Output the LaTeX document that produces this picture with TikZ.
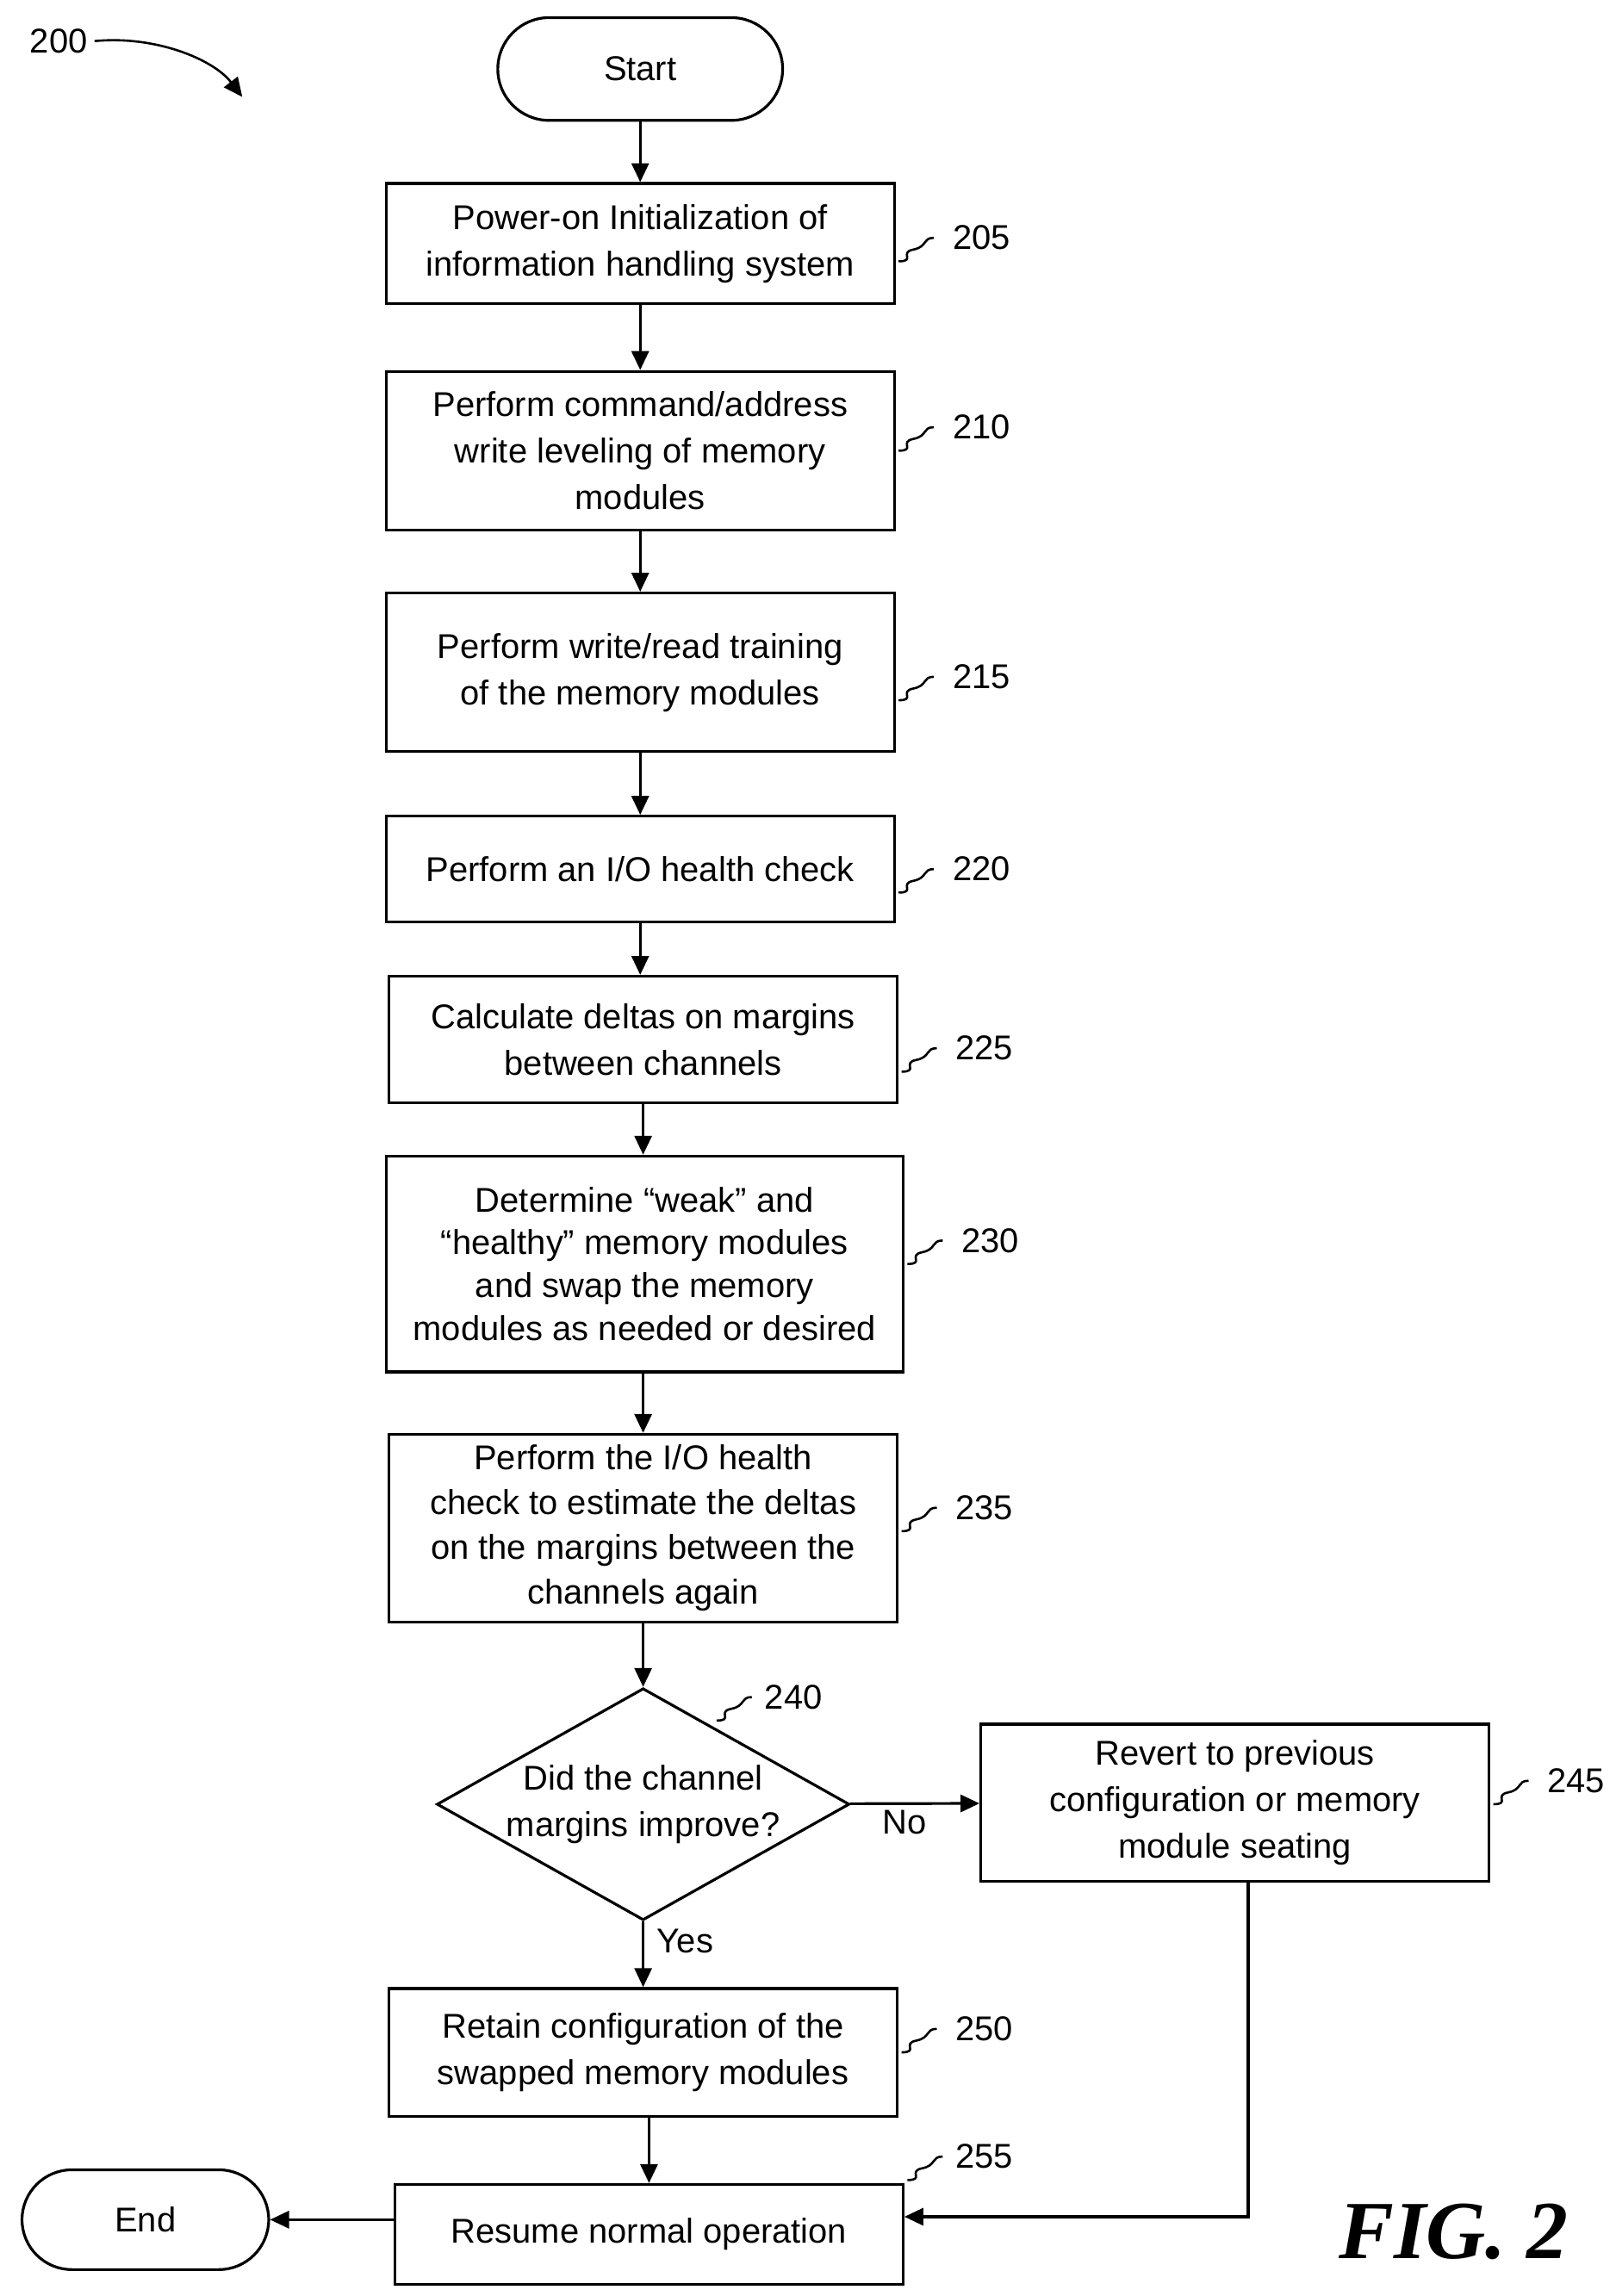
\documentclass[tikz,border=0pt]{standalone}
\usepackage{fontspec}
\setmainfont{Liberation Sans}
\newfontfamily\figfont{Liberation Serif}
\usetikzlibrary{shapes.geometric,arrows.meta}
\begin{document}
\begin{tikzpicture}[x=0.03cm,y=-0.03cm,line width=1.6pt,
  txt/.style={font=\fontsize{20}{27}\selectfont,align=center},
  box/.style={draw,txt,rectangle,inner sep=0pt},
  arr/.style={-{Triangle[length=11pt,width=10pt]}},
  lab/.style={font=\fontsize{20}{24}\selectfont,anchor=west}]
\useasboundingbox (0,0) rectangle (1100,1564);
\node[draw,txt,rounded corners=35*0.03cm,minimum width=194*0.03cm,minimum height=70*0.03cm] (s) at (436,47) {Start};
\node[box,minimum width=346*0.03cm,minimum height=82*0.03cm] (b205) at (436,166) {Power-on Initialization of\\information handling system};
\node[box,minimum width=346*0.03cm,minimum height=108*0.03cm] (b210) at (436,307) {Perform command/address\\write leveling of memory\\modules};
\node[box,minimum width=346*0.03cm,minimum height=108*0.03cm] (b215) at (436,458) {Perform write/read training\\of the memory modules};
\node[box,minimum width=346*0.03cm,minimum height=72*0.03cm] (b220) at (436,592) {Perform an I/O health check};
\node[box,minimum width=346*0.03cm,minimum height=86*0.03cm] (b225) at (438,708) {Calculate deltas on margins\\between channels};
\node[box,minimum width=352*0.03cm,minimum height=147*0.03cm,font=\fontsize{20}{25}\selectfont] (b230) at (439,861) {Determine “weak” and\\“healthy” memory modules\\and swap the memory\\modules as needed or desired};
\node[box,minimum width=346*0.03cm,minimum height=128*0.03cm,font=\fontsize{20}{26}\selectfont] (b235) at (438,1041) {Perform the I/O health\\check to estimate the deltas\\on the margins between the\\channels again};
\node[draw,diamond,minimum width=281*0.03cm,minimum height=158*0.03cm,inner sep=0pt] (d) at (438,1229) {};
\node[txt] at (438,1229) {Did the channel\\margins improve?};
\node[box,minimum width=346*0.03cm,minimum height=107*0.03cm] (b245) at (841,1228) {Revert to previous\\configuration or memory\\module seating};
\node[box,minimum width=346*0.03cm,minimum height=87*0.03cm] (b250) at (438,1398) {Retain configuration of the\\swapped memory modules};
\node[box,minimum width=346*0.03cm,minimum height=68*0.03cm] (b255) at (442,1522) {Resume normal operation};
\node[draw,txt,rounded corners=34*0.03cm,minimum width=168*0.03cm,minimum height=68*0.03cm] (e) at (99,1512) {End};
\draw[arr] (s) -- (b205);
\draw[arr] (b205) -- (b210);
\draw[arr] (b210) -- (b215);
\draw[arr] (b215) -- (b220);
\draw[arr] (b220.south) -- (b220.south|-b225.north);
\draw[arr] (b225) -- (b225|-b230.north);
\draw[arr] (b230.south-|b235) -- (b235);
\draw[arr] (b235) -- (d);
\draw[arr] (d) -- node[lab,pos=0.45,below,xshift=-2pt] {No} (b245);
\draw[arr] (d) -- node[lab,pos=0.3,anchor=west,xshift=4pt] {Yes} (b250);
\coordinate (c250) at (442,1442);
\draw[arr] (c250) -- (b255.north);
\coordinate (c1) at (850,1510);
\draw[arr] (b245.south-|c1) -- (c1) -- (b255.east|-c1);
\draw[arr] (b255.west|-e) -- (e);
% reference numerals with squiggles
\tikzset{sq/.style={line width=1.3pt}}
\foreach \x/\y/\t in {612/178/205,612/307/210,612/477/215,612/608/220,614/730/225,618/861/230,614/1043/235,1017/1229/245,614/1398/250}{
  \draw[sq] (\x,\y) .. controls +(12,0) and +(-10,2) .. +(10,-8) .. controls +(10,-2) and +(-8,0) .. +(24,-16);
  \node[lab] at (\x+32,\y-16) {\t};
}
\draw[sq] (488,1172) .. controls +(12,0) and +(-10,2) .. +(10,-8) .. controls +(10,-2) and +(-8,0) .. +(24,-16);
\node[lab] at (516,1156) {240};
\draw[sq] (618,1485) .. controls +(12,0) and +(-10,2) .. +(10,-8) .. controls +(10,-2) and +(-8,0) .. +(24,-16);
\node[lab] at (646,1469) {255};
\node[font=\fontsize{20}{24}\selectfont] (n200) at (40,28) {200};
\coordinate (a200) at (165,66);
\draw[arr,line width=1.3pt] (n200.east) .. controls (105,24) and (145,40) .. (a200);
\node[font=\figfont\bfseries\itshape\fontsize{48}{52}\selectfont] (fig) at (990,1520) {FIG. 2};
\end{tikzpicture}
\end{document}
